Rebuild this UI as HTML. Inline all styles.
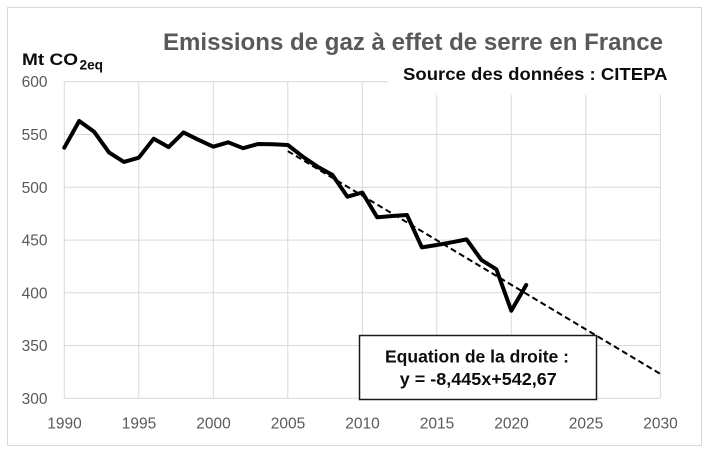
<!DOCTYPE html>
<html><head><meta charset="utf-8"><style>
html,body{margin:0;padding:0;background:#fff;}
svg{display:block;}
text{font-family:"Liberation Sans",Arial,sans-serif;}
</style></head><body>
<svg width="707" height="451" viewBox="0 0 707 451" xmlns="http://www.w3.org/2000/svg">
<rect x="0" y="0" width="707" height="451" fill="#fff"/>
<rect x="7.5" y="7.5" width="694" height="438" fill="#fff" stroke="#d9d9d9" stroke-width="1"/>
<g stroke="#d9d9d9" stroke-width="1" fill="none">
<line x1="64.3" y1="81.7" x2="660.3" y2="81.7"/>
<line x1="64.3" y1="134.5" x2="660.3" y2="134.5"/>
<line x1="64.3" y1="187.3" x2="660.3" y2="187.3"/>
<line x1="64.3" y1="240.1" x2="660.3" y2="240.1"/>
<line x1="64.3" y1="292.8" x2="660.3" y2="292.8"/>
<line x1="64.3" y1="345.5" x2="660.3" y2="345.5"/>
<line x1="64.3" y1="398.3" x2="660.3" y2="398.3"/>
<line x1="64.3" y1="81.7" x2="64.3" y2="398.3"/>
<line x1="138.8" y1="81.7" x2="138.8" y2="398.3"/>
<line x1="213.3" y1="81.7" x2="213.3" y2="398.3"/>
<line x1="287.8" y1="81.7" x2="287.8" y2="398.3"/>
<line x1="362.3" y1="81.7" x2="362.3" y2="398.3"/>
<line x1="436.8" y1="81.7" x2="436.8" y2="398.3"/>
<line x1="511.3" y1="81.7" x2="511.3" y2="398.3"/>
<line x1="585.8" y1="81.7" x2="585.8" y2="398.3"/>
<line x1="660.3" y1="81.7" x2="660.3" y2="398.3"/>
</g>
<!-- white box behind source label -->
<rect x="388" y="58" width="290" height="37" fill="#fff"/>
<!-- trend line -->
<line x1="287.8" y1="151.1" x2="660.3" y2="373.9" stroke="#000" stroke-width="2" stroke-dasharray="6 3.5"/>
<!-- data -->
<polyline fill="none" stroke="#000" stroke-width="4" stroke-linejoin="round" stroke-linecap="round" points="
64.3,147.7 79.2,121.0 94.1,131.7 109.0,152.4 123.9,161.9 138.8,157.7 153.7,138.7 168.6,147.1 183.5,132.4 198.4,139.8
213.3,146.7 228.2,142.3 243.1,148.2 258.0,144.0 272.9,144.3 287.8,145.0 302.7,156.6 317.6,166.7 332.5,175.0 347.4,196.7
362.3,192.5 377.2,217.3 392.1,216.0 407.0,215.0 421.9,247.4 436.8,245.0 451.7,242.3 466.6,239.4 481.5,260.1 496.4,269.3
511.3,310.7 526.2,285.0"/>
<!-- equation box -->
<rect x="359.5" y="335.5" width="237" height="64" fill="#fff" stroke="#1a1a1a" stroke-width="1.5"/>
<text x="477" y="362.3" font-size="17.5" font-weight="bold" fill="#0d0d0d" text-anchor="middle" textLength="184" lengthAdjust="spacingAndGlyphs">Equation de la droite :</text>
<text x="478.3" y="385" font-size="17.5" font-weight="bold" fill="#0d0d0d" text-anchor="middle" textLength="157" lengthAdjust="spacingAndGlyphs">y = -8,445x+542,67</text>
<!-- y tick labels -->
<g font-size="15.5" fill="#595959" text-anchor="end">
<text x="47.5" y="87.2">600</text>
<text x="47.5" y="140">550</text>
<text x="47.5" y="192.8">500</text>
<text x="47.5" y="245.6">450</text>
<text x="47.5" y="298.3">400</text>
<text x="47.5" y="351">350</text>
<text x="47.5" y="403.8">300</text>
</g>
<!-- x tick labels -->
<g font-size="15.5" fill="#595959" text-anchor="middle">
<text x="64.5" y="428.5">1990</text>
<text x="139" y="428.5">1995</text>
<text x="213.5" y="428.5">2000</text>
<text x="288" y="428.5">2005</text>
<text x="362.5" y="428.5">2010</text>
<text x="437" y="428.5">2015</text>
<text x="511.5" y="428.5">2020</text>
<text x="586" y="428.5">2025</text>
<text x="660.5" y="428.5">2030</text>
</g>
<!-- title -->
<text x="163" y="50" font-size="24" font-weight="bold" fill="#595959" textLength="500" lengthAdjust="spacingAndGlyphs">Emissions de gaz à effet de serre en France</text>
<!-- source -->
<text x="403" y="80" font-size="17.5" font-weight="bold" fill="#0d0d0d" textLength="264.5" lengthAdjust="spacingAndGlyphs">Source des données : CITEPA</text>
<!-- unit label -->
<text x="22" y="65" font-size="17" font-weight="bold" fill="#0d0d0d" textLength="56" lengthAdjust="spacingAndGlyphs">Mt CO</text>
<text x="79.5" y="69.5" font-size="13.5" font-weight="bold" fill="#0d0d0d" textLength="23.5" lengthAdjust="spacingAndGlyphs">2eq</text>
</svg>
</body></html>
